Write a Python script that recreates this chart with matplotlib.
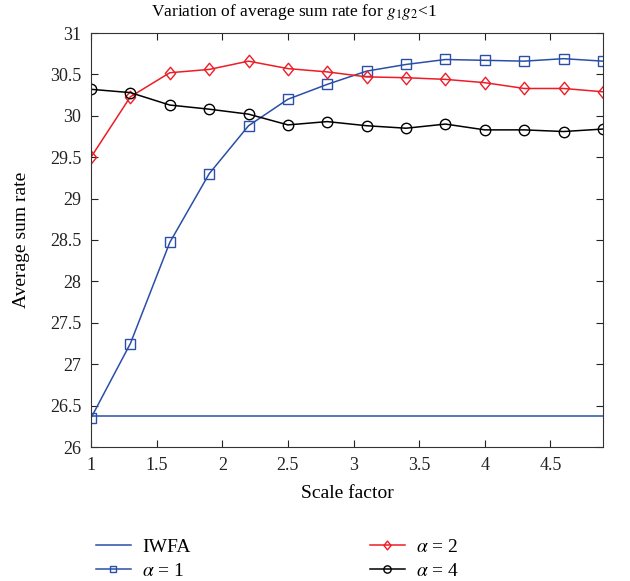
import matplotlib.pyplot as plt
import numpy as np
from matplotlib.path import Path

plt.rcParams['font.family'] = ['Liberation Serif', 'DejaVu Serif']
plt.rcParams['mathtext.fontset'] = 'stix'

scale = [1, 1.3, 1.6, 1.9, 2.2, 2.5, 2.8, 3.1, 3.4, 3.7, 4.0, 4.3, 4.6, 4.9]
iwfa = [26.38] * len(scale)
alpha1 = [26.35, 27.25, 28.47, 29.30, 29.88, 30.20, 30.38, 30.54, 30.62, 30.68, 30.67, 30.66, 30.69, 30.66]
alpha2 = [29.50, 30.23, 30.52, 30.56, 30.66, 30.57, 30.53, 30.47, 30.46, 30.44, 30.40, 30.33, 30.33, 30.29]
alpha4 = [30.32, 30.28, 30.13, 30.08, 30.02, 29.89, 29.93, 29.88, 29.85, 29.90, 29.83, 29.83, 29.81, 29.84]

diamond = Path([(0, -1), (0.82, 0), (0, 1), (-0.82, 0), (0, -1)],
               [Path.MOVETO, Path.LINETO, Path.LINETO, Path.LINETO, Path.CLOSEPOLY])

fig = plt.figure(figsize=(6.3, 5.81), dpi=100)
ax = fig.add_axes([91/630, 1-447/581, 512/630, 414/581])

blue = '#2a4fa8'
l0, = ax.plot(scale, iwfa, color=blue, lw=1.1, label='IWFA')
l1, = ax.plot(scale, alpha1, color=blue, lw=1.1, marker='s', ms=6.5, mfc='none', mec=blue, label=r'$\alpha$ = 1')
l2, = ax.plot(scale, alpha2, color='#ee1c25', lw=1.1, marker=diamond, ms=9, mfc='none', label=r'$\alpha$ = 2')
l4, = ax.plot(scale, alpha4, color='black', lw=1.1, marker='o', ms=7.5, mfc='none', label=r'$\alpha$ = 4')

ax.set_xlim(1, 4.9)
ax.set_ylim(26, 31)
ax.set_xticks([1, 1.5, 2, 2.5, 3, 3.5, 4, 4.5])
ax.set_xticklabels(['1', '1.5', '2', '2.5', '3', '3.5', '4', '4.5'])
ax.set_yticks(np.arange(26, 31.01, 0.5))
ax.set_yticklabels(['26', '26.5', '27', '27.5', '28', '28.5', '29', '29.5', '30', '30.5', '31'])
ax.tick_params(direction='in', top=True, right=True, labelsize=13, length=5, colors='#222222', pad=7)
for s in ax.spines.values():
    s.set_color('#333333')
ax.set_xlabel('Scale factor', fontsize=14, labelpad=8)
ax.set_ylabel('Average sum rate', fontsize=14, labelpad=14)
fig.text(294/630, 1-12/581, r'Variation of average sum rate for $g_1g_2$<1', fontsize=12.5,
         ha='center', va='center')

fig.legend(handles=[l0, l1, l2, l4], loc='center left', bbox_to_anchor=(86/630, 1-559/581), ncol=2,
           frameon=False, fontsize=14, columnspacing=9.2, handlelength=1.8, handletextpad=0.6,
           labelspacing=0.35, markerscale=0.7, borderpad=0)

fig.savefig('out.png', dpi=100)
